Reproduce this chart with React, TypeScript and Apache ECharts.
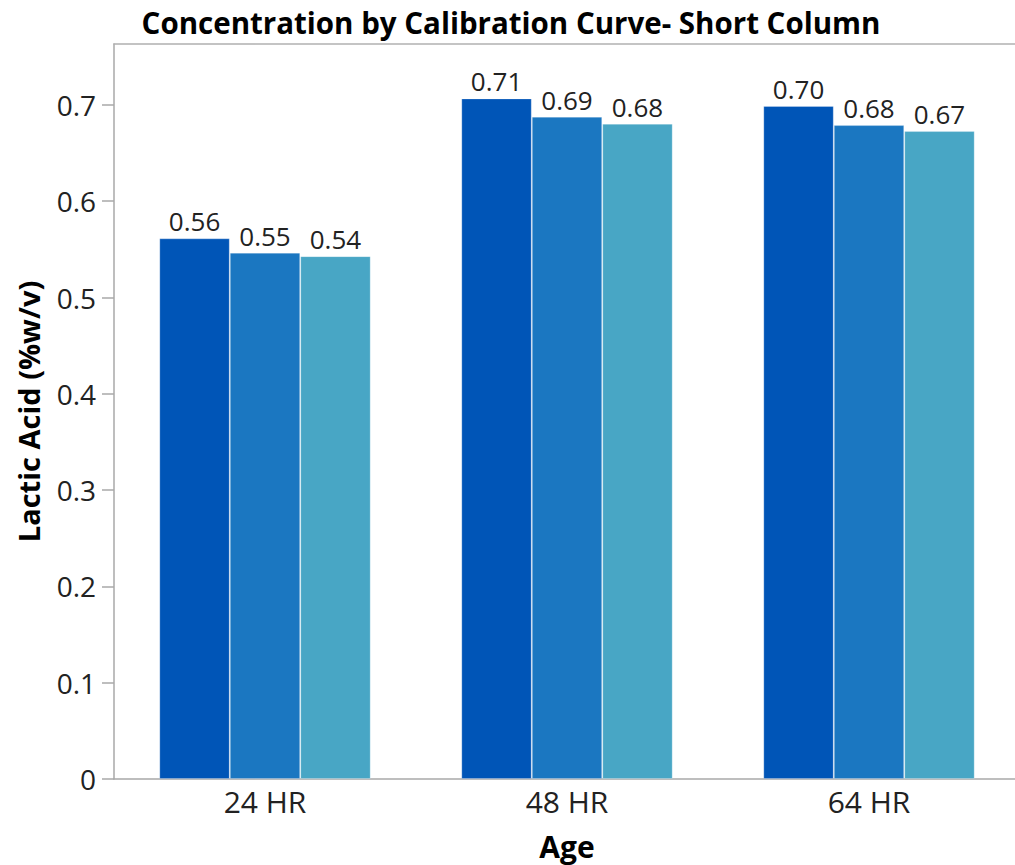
import React, { useEffect, useRef } from "react";
import * as echarts from "echarts";

const categories = ["24 HR", "48 HR", "64 HR"];
const seriesNames = ["Curve 1", "Curve 2", "Curve 3"];
const curve1 = [0.5615, 0.7068, 0.6989];
const curve2 = [0.5466, 0.6878, 0.6791];
const curve3 = [0.5430, 0.6805, 0.6729];
const yTicks = [0, 0.1, 0.2, 0.3, 0.4, 0.5, 0.6, 0.7];
const colors = ["#0055B7", "#1B77C1", "#48A6C5"];
const FONT = "'Open Sans', 'Noto Sans', sans-serif";

export default function App() {
  const ref = useRef<HTMLDivElement>(null);
  useEffect(() => {
    if (!ref.current) return;
    const chart = echarts.init(ref.current, null, { renderer: "svg" });
    const values = [curve1, curve2, curve3];
    chart.setOption({
      animation: false,
      textStyle: { fontFamily: FONT },
      title: {
        text: "Concentration by Calibration Curve- Short Column",
        left: 506,
        textAlign: "center",
        top: 2,
        textStyle: { fontFamily: FONT, fontSize: 29.5, fontWeight: "bold", color: "#000" },
      },
      grid: {
        left: 114,
        width: 906,
        top: 44,
        bottom: 86,
        outerBoundsMode: "none",
        containLabel: false,
      },
      xAxis: [
        {
          type: "category",
          data: categories,
          name: "Age",
          nameLocation: "middle",
          nameGap: 52,
          nameTextStyle: { fontFamily: FONT, fontSize: 30, fontWeight: "bold", color: "#000" },
          axisLine: { lineStyle: { color: "#a8a8a8", width: 1.5 } },
          axisTick: { show: false },
          axisLabel: { fontFamily: FONT, fontSize: 30, color: "#222", margin: 7 },
        },
        {
          type: "category",
          data: categories,
          position: "top",
          axisLine: { show: true, lineStyle: { color: "#b0b0b0", width: 1.5 } },
          axisTick: { show: false },
          axisLabel: { show: false },
        },
      ],
      yAxis: {
        type: "value",
        min: 0,
        max: 0.7633,
        interval: 0.1,
        name: "Lactic Acid (%w/v)",
        nameLocation: "middle",
        nameGap: 71,
        nameTextStyle: { fontFamily: FONT, fontSize: 29, fontWeight: "bold", color: "#000" },
        axisLine: { show: true, lineStyle: { color: "#a8a8a8", width: 1.5 } },
        axisTick: { show: true, length: 12, customValues: yTicks, lineStyle: { color: "#a8a8a8", width: 1.5 } },
        axisLabel: { fontFamily: FONT, fontSize: 28, color: "#222", margin: 18, customValues: yTicks },
        splitLine: { show: false },
      },
      series: values.map((v, i) => ({
        name: seriesNames[i],
        type: "bar",
        data: v,
        barGap: "0%",
        barCategoryGap: "30%",
        itemStyle: { color: colors[i], borderColor: "rgba(255,255,255,0.25)", borderWidth: 1 },
        label: {
          show: true,
          position: "top",
          distance: 4,
          fontFamily: FONT,
          fontSize: 26,
          color: "#222",
          formatter: (p: any) => p.value.toFixed(2),
        },
      })),
    });
    return () => chart.dispose();
  }, []);
  return <div ref={ref} style={{ width: 1015, height: 865, position: "absolute", left: 0, top: 0 }} />;
}
